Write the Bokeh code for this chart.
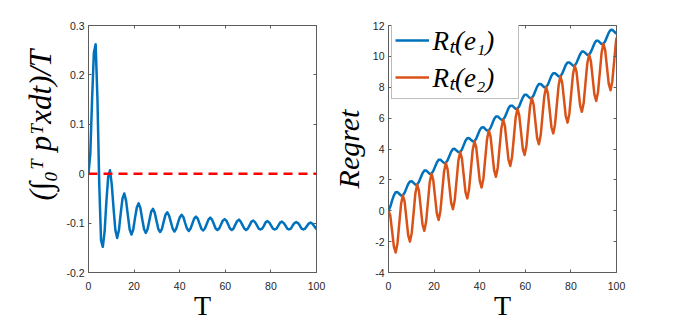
from bokeh.plotting import figure
from bokeh.layouts import row
from bokeh.models import (LinearAxis, Legend, LegendItem, Span, Title,
                          FixedTicker, CustomJSTickFormatter)
from bokeh.embed import file_html
from bokeh.resources import INLINE

# ---------------- data ----------------
T = [0.00, 0.79, 1.57, 2.36, 3.14, 3.93, 4.71, 5.50, 6.28, 7.07,
     7.85, 8.64, 9.42, 10.21, 11.00, 11.78, 12.57, 13.35, 14.14, 14.92,
     15.71, 16.49, 17.28, 18.06, 18.85, 19.63, 20.42, 21.21, 21.99, 22.78,
     23.56, 24.35, 25.13, 25.92, 26.70, 27.49, 28.27, 29.06, 29.85, 30.63,
     31.42, 32.20, 32.99, 33.77, 34.56, 35.34, 36.13, 36.91, 37.70, 38.48,
     39.27, 40.06, 40.84, 41.63, 42.41, 43.20, 43.98, 44.77, 45.55, 46.34,
     47.12, 47.91, 48.69, 49.48, 50.27, 51.05, 51.84, 52.62, 53.41, 54.19,
     54.98, 55.76, 56.55, 57.33, 58.12, 58.90, 59.69, 60.48, 61.26, 62.05,
     62.83, 63.62, 64.40, 65.19, 65.97, 66.76, 67.54, 68.33, 69.12, 69.90,
     70.69, 71.47, 72.26, 73.04, 73.83, 74.61, 75.40, 76.18, 76.97, 77.75,
     78.54, 79.33, 80.11, 80.90, 81.68, 82.47, 83.25, 84.04, 84.82, 85.61,
     86.39, 87.18, 87.96, 88.75, 89.54, 90.32, 91.11, 91.89, 92.68, 93.46,
     94.25, 95.03, 95.82, 96.60, 97.39, 98.17, 98.96, 99.75, 100.00]

avg_payoff = [0.000, 0.040, 0.150, 0.245, 0.262, 0.150, -0.020, -0.135, -0.148, -0.117,
              -0.056, -0.006, 0.007, -0.022, -0.071, -0.114, -0.130, -0.114, -0.080, -0.050,
              -0.040, -0.055, -0.085, -0.113, -0.123, -0.113, -0.089, -0.068, -0.060, -0.070,
              -0.092, -0.112, -0.120, -0.112, -0.094, -0.077, -0.071, -0.079, -0.096, -0.112,
              -0.118, -0.112, -0.097, -0.083, -0.078, -0.085, -0.098, -0.111, -0.117, -0.111,
              -0.099, -0.088, -0.083, -0.088, -0.100, -0.111, -0.116, -0.111, -0.101, -0.091,
              -0.087, -0.091, -0.101, -0.111, -0.115, -0.111, -0.102, -0.093, -0.089, -0.093,
              -0.102, -0.111, -0.114, -0.111, -0.103, -0.095, -0.092, -0.095, -0.103, -0.111,
              -0.114, -0.111, -0.103, -0.096, -0.093, -0.097, -0.104, -0.111, -0.114, -0.111,
              -0.104, -0.097, -0.095, -0.098, -0.104, -0.111, -0.113, -0.111, -0.105, -0.098,
              -0.096, -0.099, -0.105, -0.111, -0.113, -0.111, -0.105, -0.099, -0.097, -0.100,
              -0.105, -0.111, -0.113, -0.111, -0.105, -0.100, -0.098, -0.100, -0.105, -0.111,
              -0.113, -0.111, -0.106, -0.101, -0.099, -0.101, -0.106, -0.111, -0.112]

regret_e1 = [0.00, 0.27, 0.65, 1.00, 1.20, 1.21, 1.10, 0.99, 1.00, 1.17,
             1.45, 1.73, 1.90, 1.91, 1.80, 1.69, 1.70, 1.87, 2.15, 2.43,
             2.60, 2.61, 2.50, 2.39, 2.40, 2.57, 2.85, 3.13, 3.30, 3.31,
             3.20, 3.10, 3.10, 3.27, 3.55, 3.83, 4.00, 4.01, 3.90, 3.80,
             3.80, 3.97, 4.25, 4.54, 4.70, 4.71, 4.60, 4.50, 4.50, 4.67,
             4.95, 5.24, 5.40, 5.41, 5.30, 5.20, 5.20, 5.37, 5.65, 5.94,
             6.10, 6.11, 6.00, 5.90, 5.90, 6.07, 6.35, 6.64, 6.80, 6.81,
             6.71, 6.60, 6.61, 6.77, 7.06, 7.34, 7.51, 7.51, 7.41, 7.30,
             7.31, 7.47, 7.76, 8.04, 8.21, 8.21, 8.11, 8.00, 8.01, 8.17,
             8.46, 8.74, 8.91, 8.91, 8.81, 8.70, 8.71, 8.88, 9.16, 9.44,
             9.61, 9.61, 9.51, 9.40, 9.41, 9.58, 9.86, 10.14, 10.31, 10.31,
             10.21, 10.10, 10.11, 10.28, 10.56, 10.84, 11.01, 11.02, 10.91, 10.80,
             10.81, 10.98, 11.26, 11.54, 11.71, 11.72, 11.61, 11.50, 11.49]

regret_e2 = [0.00, -0.31, -1.30, -2.32, -2.70, -2.12, -0.85, 0.42, 1.00, 0.59,
             -0.50, -1.59, -2.00, -1.42, -0.15, 1.12, 1.70, 1.29, 0.20, -0.89,
             -1.30, -0.72, 0.55, 1.82, 2.40, 1.99, 0.90, -0.19, -0.60, -0.01,
             1.25, 2.52, 3.10, 2.69, 1.60, 0.51, 0.10, 0.69, 1.95, 3.22,
             3.80, 3.40, 2.30, 1.21, 0.80, 1.39, 2.65, 3.92, 4.50, 4.10,
             3.00, 1.91, 1.50, 2.09, 3.35, 4.62, 5.20, 4.80, 3.70, 2.61,
             2.20, 2.79, 4.05, 5.32, 5.90, 5.50, 4.40, 3.31, 2.90, 3.49,
             4.76, 6.02, 6.61, 6.20, 5.11, 4.01, 3.61, 4.19, 5.46, 6.72,
             7.31, 6.90, 5.81, 4.71, 4.31, 4.89, 6.16, 7.42, 8.01, 7.60,
             6.51, 5.41, 5.01, 5.59, 6.86, 8.12, 8.71, 8.30, 7.21, 6.12,
             5.71, 6.29, 7.56, 8.82, 9.41, 9.00, 7.91, 6.82, 6.41, 6.99,
             8.26, 9.53, 10.11, 9.70, 8.61, 7.52, 7.11, 7.69, 8.96, 10.23,
             10.81, 10.40, 9.31, 8.22, 7.81, 8.39, 9.66, 10.93, 11.22]

x_ticks = [0, 20, 40, 60, 80, 100]
y_ticks_left = [-0.2, -0.1, 0, 0.1, 0.2, 0.3]
y_ticks_right = [-4, -2, 0, 2, 4, 6, 8, 10, 12]
reference_level = 0

x_label = "T"
y_label_left = "(\u222b\u2080\u1d40 p\u1d40xdt)/T"
y_label_right = "Regret"
legend_labels = ["R\u209c(e\u2081)", "R\u209c(e\u2082)"]

# ---------------- style ----------------
BLUE = "#0072BD"
ORANGE = "#D95319"
RED = "#FF0000"
AXC = "#5c5c5c"
TXT = "#262626"
SERIF = "Liberation Serif"
SANS = "Liberation Sans"


def style_axis(ax, ticks, show_labels, standoff=4):
    ax.ticker = FixedTicker(ticks=ticks)
    ax.axis_line_color = None
    ax.major_tick_line_color = AXC
    ax.major_tick_line_width = 1
    ax.major_tick_in = 3
    ax.major_tick_out = 0
    ax.minor_tick_line_color = None
    ax.major_label_text_font = SANS
    ax.major_label_text_color = TXT
    if show_labels:
        ax.formatter = CustomJSTickFormatter(code="return tick.toString()")
        ax.major_label_text_font_size = "10.5px"
        ax.major_label_standoff = standoff
    else:
        ax.formatter = CustomJSTickFormatter(code="return ''")
        ax.major_label_text_font_size = "0px"
        ax.major_label_standoff = 0


def make_fig(y_range, y_ticks, width, left_border, right_border):
    p = figure(width=width, height=325, frame_width=228, frame_height=247,
               x_range=(0, 100), y_range=y_range,
               output_backend="svg", toolbar_location=None,
               min_border_left=left_border, min_border_right=right_border,
               min_border_top=25, min_border_bottom=53)
    p.title.visible = False
    p.grid.visible = False
    p.outline_line_color = AXC
    p.outline_line_width = 1
    p.background_fill_color = "white"
    p.border_fill_color = "white"
    p.add_layout(LinearAxis(), "above")
    p.add_layout(LinearAxis(), "right")
    style_axis(p.below[0], x_ticks, True, standoff=9)
    style_axis(p.left[0], y_ticks, True, standoff=4)
    style_axis(p.above[0], x_ticks, False)
    style_axis(p.right[0], y_ticks, False)
    xa = p.below[0]
    xa.axis_label = x_label
    xa.axis_label_text_font = SERIF
    xa.axis_label_text_font_style = "normal"
    xa.axis_label_text_font_size = "28px"
    xa.axis_label_text_color = "black"
    xa.axis_label_standoff = -3
    return p


# ---------------- left panel ----------------
p1 = make_fig((-0.2, 0.3), y_ticks_left, 326, 88, 10)
p1.add_layout(Span(location=reference_level, dimension="width", line_color=RED,
                   line_width=2.5, line_dash="9 6"))
p1.line(T, avg_payoff, line_color=BLUE, line_width=2.5, line_join="round")
p1.add_layout(Title(text=y_label_left, align="left", offset=72, standoff=12,
                    text_font=SERIF, text_font_style="italic", text_font_size="31px",
                    text_color="black"), "left")

# ---------------- right panel ----------------
p2 = make_fig((-4, 12), y_ticks_right, 354, 62, 64)
r1 = p2.line(T, regret_e1, line_color=BLUE, line_width=2.5, line_join="round")
r2 = p2.line(T, regret_e2, line_color=ORANGE, line_width=2.5, line_join="round")
ya = p2.left[0]
ya.axis_label = y_label_right
ya.axis_label_text_font = SERIF
ya.axis_label_text_font_style = "italic"
ya.axis_label_text_font_size = "30px"
ya.axis_label_text_color = "black"
ya.axis_label_standoff = 5

legend = Legend(items=[LegendItem(label=legend_labels[0], renderers=[r1]),
                       LegendItem(label=legend_labels[1], renderers=[r2])],
                location=(2.5, 247 - 74), orientation="vertical",
                padding=3, spacing=0, margin=0,
                glyph_width=34, glyph_height=34, label_height=34, label_width=82,
                label_standoff=4,
                label_text_font=SERIF, label_text_font_style="italic",
                label_text_font_size="27px", label_text_color="black",
                border_line_color="#7a7a7a", border_line_width=1,
                background_fill_color="white", background_fill_alpha=1.0)
p2.add_layout(legend)

layout = row(p1, p2)
open("out.html", "w").write(file_html(layout, INLINE))
